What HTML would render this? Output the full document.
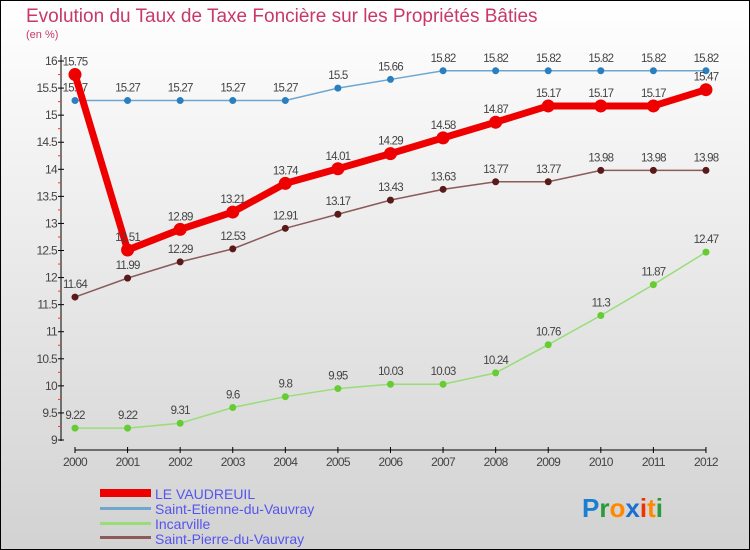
<!DOCTYPE html>
<html><head><meta charset="utf-8"><style>
body{margin:0;width:750px;height:550px;overflow:hidden}
svg{display:block;font-family:"Liberation Sans",sans-serif}
</style></head><body>
<svg width="750" height="550" viewBox="0 0 750 550">
<defs><linearGradient id="bg" x1="0" y1="0" x2="0" y2="1"><stop offset="0" stop-color="#ffffff"/><stop offset="1" stop-color="#d2d2d2"/></linearGradient></defs>
<rect x="0.5" y="0.5" width="749" height="549" fill="url(#bg)" stroke="#000"/>
<text x="26" y="22" font-size="19" fill="#c8386a">Evolution du Taux de Taxe Foncière sur les Propriétés Bâties</text>
<text x="26" y="38" font-size="11" fill="#c8386a">(en %)</text>
<g id="axes"></g>
<g id="series"></g>
<g id="legend">
<rect x="100" y="489" width="51" height="8" fill="#e00"/>
<text x="155" y="499" font-size="14" fill="#5555ee">LE VAUDREUIL</text>
<rect x="100" y="507" width="51" height="3" fill="#6fa6d0"/>
<text x="155" y="514" font-size="14" fill="#5555ee">Saint-Etienne-du-Vauvray</text>
<rect x="100" y="522" width="51" height="3" fill="#99dd77"/>
<text x="155" y="529" font-size="14" fill="#5555ee">Incarville</text>
<rect x="100" y="536" width="51" height="3" fill="#8b5a5a"/>
<text x="155" y="544" font-size="14" fill="#5555ee">Saint-Pierre-du-Vauvray</text>
</g>
<g font-size="26" font-weight="bold">
<text x="582" y="517"><tspan fill="#1a7fd0">P</tspan><tspan fill="#2a9a3a">r</tspan><tspan fill="#ff8800">o</tspan><tspan fill="#1a6fd0">x</tspan><tspan fill="#ee3300">i</tspan><tspan fill="#ff8800">t</tspan><tspan fill="#2a9a3a">i</tspan></text>
</g>
</svg>
<script>
const years=[2000,2001,2002,2003,2004,2005,2006,2007,2008,2009,2010,2011,2012];
const vaudreuil=[15.75,12.51,12.89,13.21,13.74,14.01,14.29,14.58,14.87,15.17,15.17,15.17,15.47];
const stEtienne=[15.27,15.27,15.27,15.27,15.27,15.5,15.66,15.82,15.82,15.82,15.82,15.82,15.82];
const incarville=[9.22,9.22,9.31,9.6,9.8,9.95,10.03,10.03,10.24,10.76,11.3,11.87,12.47];
const stPierre=[11.64,11.99,12.29,12.53,12.91,13.17,13.43,13.63,13.77,13.77,13.98,13.98,13.98];
const yTicks=[9,9.5,10,10.5,11,11.5,12,12.5,13,13.5,14,14.5,15,15.5,16];
const NS="http://www.w3.org/2000/svg";
const x=i=>75+i*52.58;
const y=v=>440-(v-9)*54.14;
function mk(t,a,p){const e=document.createElementNS(NS,t);for(const k in a)e.setAttribute(k,a[k]);p.appendChild(e);return e;}
const ax=document.getElementById('axes');
let l=mk('line',{x1:61,y1:55,x2:61,y2:441,stroke:'#000'},ax);


l=mk('line',{x1:75,y1:450,x2:706,y2:450,stroke:'#000'},ax);


yTicks.forEach(v=>{
  mk('line',{x1:58,y1:y(v),x2:64,y2:y(v),stroke:'#000'},ax);
  if(v<16) mk('line',{x1:58,y1:y(v+0.25),x2:61,y2:y(v+0.25),stroke:'#f33'},ax);
  const t=mk('text',{x:57,y:y(v)+4,'font-size':12,'text-anchor':'end',fill:'#444','letter-spacing':'-0.7'},ax);
  t.textContent=v;
  
  
});
years.forEach((yr,i)=>{
  mk('line',{x1:x(i),y1:447,x2:x(i),y2:453,stroke:'#000'},ax);
  const t=mk('text',{x:x(i),y:466,'font-size':12,'text-anchor':'middle',fill:'#444','letter-spacing':'-0.7'},ax);
  t.textContent=yr;
  
  
});
const sg=document.getElementById('series');
function series(name,vals,col,dot,w,r){
  const g=mk('g',{},sg);
  
  
  const pl=mk('polyline',{points:vals.map((v,i)=>x(i)+','+y(v)).join(' '),fill:'none',stroke:col,'stroke-width':w,'stroke-linejoin':'round'},g);
  
  
  vals.forEach((v,i)=>{
    const c=mk('circle',{cx:x(i),cy:y(v),r:r,fill:dot},g);
    
    
    const t=mk('text',{x:x(i),y:y(v)-9,'font-size':11.5,'text-anchor':'middle',fill:'#444','letter-spacing':'-0.8'},g);
    t.textContent=v;
    
    
  });
}
series('saint-etienne-series',stEtienne,'#6fa6d0','#2a7fc0',1.5,3.5);
series('incarville-series',incarville,'#99dd77','#66cc33',1.5,3.5);
series('saint-pierre-series',stPierre,'#8b5a5a','#5a1a1a',1.5,3.5);
series('le-vaudreuil-series',vaudreuil,'#ee0000','#ee0000',7,6.5);
</script>
</body></html>
